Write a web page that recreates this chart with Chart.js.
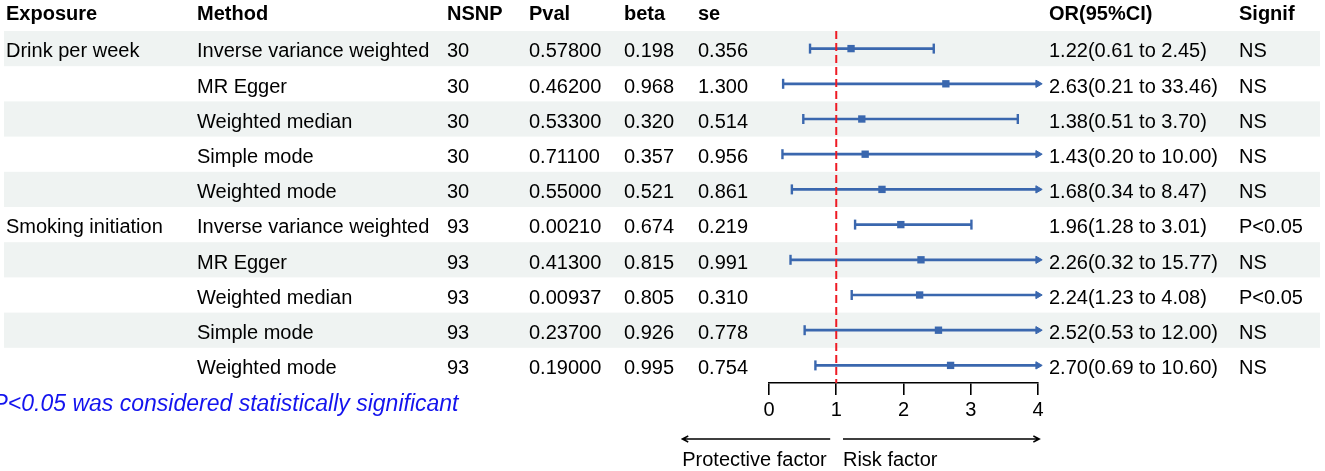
<!DOCTYPE html>
<html>
<head>
<meta charset="utf-8">
<script src="https://cdn.jsdelivr.net/npm/chart.js@4.4.1/dist/chart.umd.min.js"></script>
<style>
html,body{margin:0;padding:0;background:#fff;}
#wrap{width:1325px;height:471px;position:relative;}
</style>
</head>
<body>
<div id="wrap"><canvas id="c" width="1325" height="471"></canvas></div>
<script>
// ---- data ----
const headers = ["Exposure", "Method", "NSNP", "Pval", "beta", "se", "OR(95%CI)", "Signif"];
const exposures = ["Drink per week", "", "", "", "", "Smoking initiation", "", "", "", ""];
const methods = ["Inverse variance weighted", "MR Egger", "Weighted median", "Simple mode", "Weighted mode",
                 "Inverse variance weighted", "MR Egger", "Weighted median", "Simple mode", "Weighted mode"];
const nsnp = ["30", "30", "30", "30", "30", "93", "93", "93", "93", "93"];
const pval = ["0.57800", "0.46200", "0.53300", "0.71100", "0.55000", "0.00210", "0.41300", "0.00937", "0.23700", "0.19000"];
const beta = ["0.198", "0.968", "0.320", "0.357", "0.521", "0.674", "0.815", "0.805", "0.926", "0.995"];
const se = ["0.356", "1.300", "0.514", "0.956", "0.861", "0.219", "0.991", "0.310", "0.778", "0.754"];
const orEst = [1.22, 2.63, 1.38, 1.43, 1.68, 1.96, 2.26, 2.24, 2.52, 2.70];
const ciLow = [0.61, 0.21, 0.51, 0.20, 0.34, 1.28, 0.32, 1.23, 0.53, 0.69];
const ciHigh = [2.45, 33.46, 3.70, 10.00, 8.47, 3.01, 15.77, 4.08, 12.00, 10.60];
const signif = ["NS", "NS", "NS", "NS", "NS", "P<0.05", "NS", "P<0.05", "NS", "NS"];
const xTicks = [0, 1, 2, 3, 4];
const refValue = 1;
const footnote = "P<0.05 was considered statistically significant";
const directionLabels = ["Protective factor", "Risk factor"];

// ---- styling ----
const FONT = '"Liberation Sans", Arial, Helvetica, sans-serif';
const BLUE = '#3A67AE';
const RED = '#EE1B24';
const BAND = '#eff3f2';
const xMin = xTicks[0], xMax = xTicks[xTicks.length - 1];
const nRows = methods.length;
const orLabels = orEst.map((v, i) => v.toFixed(2) + '(' + ciLow[i].toFixed(2) + ' to ' + ciHigh[i].toFixed(2) + ')');

const columns = [
  { x: 6, head: 0, vals: exposures },
  { x: 197, head: 1, vals: methods },
  { x: 447, head: 2, vals: nsnp },
  { x: 529, head: 3, vals: pval },
  { x: 624, head: 4, vals: beta },
  { x: 698, head: 5, vals: se },
  { x: 1049, head: 6, vals: orLabels },
  { x: 1239, head: 7, vals: signif }
];

// ---- datasets ----
const datasets = [];
datasets.push({
  type: 'line', order: 0, clip: false,
  data: [{ x: refValue, y: 0.5 }, { x: refValue, y: nRows + 0.5 }],
  borderColor: RED, borderWidth: 2, borderDash: [8, 4], pointRadius: 0
});
datasets.push({
  type: 'scatter', order: 1, clip: false,
  data: orEst.map((v, i) => ({ x: v, y: i + 1 })),
  pointStyle: 'rect', pointRadius: 5.2, pointBackgroundColor: BLUE, pointBorderColor: BLUE, pointBorderWidth: 0
});
for (let i = 0; i < nRows; i++) {
  const over = ciHigh[i] > xMax;
  datasets.push({
    type: 'line', order: 2, clip: false,
    data: [{ x: ciLow[i], y: i + 1 }, { x: Math.min(ciHigh[i], xMax), y: i + 1 }],
    borderColor: BLUE, borderWidth: 2.7,
    pointStyle: ['line', over ? 'triangle' : 'line'],
    pointRotation: 90,
    pointRadius: [5, over ? 4.2 : 5],
    pointBorderWidth: [2.4, over ? 1 : 2.4],
    pointBackgroundColor: BLUE, pointBorderColor: BLUE
  });
}

// ---- table / annotation plugin ----
const tablePlugin = {
  id: 'table',
  beforeDraw(chart) {
    const ctx = chart.ctx, y = chart.scales.y;
    ctx.save();
    ctx.fillStyle = '#fff';
    ctx.fillRect(0, 0, chart.width, chart.height);
    ctx.fillStyle = BAND;
    for (let i = 1; i <= nRows; i += 2) {
      const top = y.getPixelForValue(i - 0.5), bot = y.getPixelForValue(i + 0.5);
      ctx.fillRect(4, top, 1316, bot - top);
    }
    ctx.restore();
  },
  afterDraw(chart) {
    const ctx = chart.ctx, y = chart.scales.y, x = chart.scales.x;
    ctx.save();
    ctx.fillStyle = '#000';
    ctx.textBaseline = 'alphabetic';
    ctx.textAlign = 'left';
    // headers
    ctx.font = 'bold 20px ' + FONT;
    const hy = y.getPixelForValue(0) + 6.2;
    columns.forEach(c => ctx.fillText(headers[c.head], c.x, hy));
    // body
    ctx.font = '20px ' + FONT;
    for (let i = 0; i < nRows; i++) {
      const by = y.getPixelForValue(i + 1) + 8.7;
      columns.forEach(c => { if (c.vals[i]) ctx.fillText(c.vals[i], c.x, by); });
    }
    // footnote
    ctx.fillStyle = '#1414EE';
    ctx.font = 'italic 23px ' + FONT;
    ctx.fillText(footnote, -7.5, 411);
    // direction arrows
    const ay = 439;
    const l0 = x.getPixelForValue(-1.29), l1 = x.getPixelForValue(0.91);
    const r0 = x.getPixelForValue(1.1), r1 = x.getPixelForValue(4.02);
    ctx.strokeStyle = '#000';
    ctx.lineWidth = 1.4;
    ctx.beginPath();
    ctx.moveTo(l1, ay); ctx.lineTo(l0, ay);
    ctx.moveTo(l0 + 6, ay - 3); ctx.lineTo(l0, ay); ctx.lineTo(l0 + 6, ay + 3);
    ctx.moveTo(r0, ay); ctx.lineTo(r1, ay);
    ctx.moveTo(r1 - 6, ay - 3); ctx.lineTo(r1, ay); ctx.lineTo(r1 - 6, ay + 3);
    ctx.stroke();
    ctx.fillStyle = '#000';
    ctx.font = '20px ' + FONT;
    ctx.fillText(directionLabels[0], l0, 466);
    ctx.fillText(directionLabels[1], r0, 466);
    ctx.restore();
  }
};

new Chart(document.getElementById('c'), {
  data: { datasets },
  options: {
    responsive: false,
    animation: false,
    devicePixelRatio: 1,
    events: [],
    layout: { padding: { left: 769, right: 287, top: 31, bottom: 48 } },
    plugins: { legend: { display: false }, tooltip: { enabled: false } },
    scales: {
      x: {
        type: 'linear', min: xMin, max: xMax,
        afterBuildTicks: s => { s.ticks = xTicks.map(v => ({ value: v })); },
        afterFit: s => { s.height = 40; },
        border: { display: true, color: '#000', width: 1.6 },
        grid: { display: true, drawOnChartArea: false, drawTicks: true, tickLength: 12, color: '#000', lineWidth: 1.6 },
        ticks: { color: '#000', font: { family: FONT, size: 20 }, padding: 3, maxRotation: 0 }
      },
      y: {
        type: 'linear', min: 0.5, max: nRows + 0.5, reverse: true, display: false
      }
    }
  },
  plugins: [tablePlugin]
});
</script>
</body>
</html>
